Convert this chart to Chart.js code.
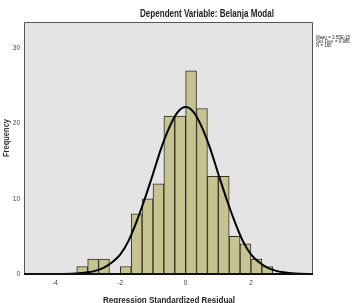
<!DOCTYPE html>
<html>
<head>
<meta charset="utf-8">
<script src="https://cdn.jsdelivr.net/npm/chart.js@4/dist/chart.umd.min.js"></script>
<style>
	html, body { margin: 0; padding: 0; background: #fff; }
	#wrap { width: 362px; height: 303px; }
</style>
</head>
<body>
<div id="wrap"><canvas id="myChart" width="362" height="303"></canvas></div>
<script>
// histogram bins (midpoints, width 1/3) and counts
const binMids = [-3.1667, -2.8333, -2.5, -2.1667, -1.8333, -1.5, -1.1667, -0.8333, -0.5, -0.1667,
	0.1667, 0.5, 0.8333, 1.1667, 1.5, 1.8333, 2.1667, 2.5]
const counts = [1, 2, 2, 0, 1, 8, 10, 12, 21, 21, 27, 22, 13, 13, 5, 4, 2, 1]

// normal curve
const curveX = [-4.95, -4.5, -4, -3.5, -3.25, -3, -2.75, -2.5, -2.25, -2, -1.75, -1.5, -1.25, -1, -0.75, -0.5, -0.25,
	0, 0.25, 0.5, 0.75, 1, 1.25, 1.5, 1.75, 2, 2.25, 2.5, 2.75, 3, 3.25, 3.5, 3.9]
const curveY = [0, 0, 0.01, 0.04, 0.1, 0.22, 0.45, 0.85, 1.55, 2.6, 4.4, 7.0, 10.0, 13.3, 16.7, 19.5, 21.5,
	22.2, 21.5, 19.5, 16.7, 13.3, 10.0, 7.0, 4.4, 2.6, 1.55, 0.85, 0.45, 0.22, 0.1, 0.04, 0]

const xTicks = [-4, -2, 0, 2]
const yTicks = [0, 10, 20, 30]
const titleText = 'Dependent Variable: Belanja Modal'
const statLines = ['Mean = 3.55E-15', 'Std. Dev. = 0.985', 'N = 165']

const sans = "'Liberation Sans', Arial, sans-serif"

// draws text squeezed to a given width (condensed look of the original)
function squeezed(ctx, text, cx, cy, width) {
	const w = ctx.measureText(text).width
	ctx.save()
	ctx.translate(cx, cy)
	ctx.scale(Math.min(1, width / w), 1)
	ctx.fillText(text, 0, 0)
	ctx.restore()
}

const decor = {
	id: 'decor',
	beforeDraw(chart) {
		const { ctx, chartArea: a } = chart
		ctx.save()
		ctx.fillStyle = '#e4e4e4'
		ctx.fillRect(a.left, a.top, a.right - a.left, a.bottom - a.top)
		ctx.restore()
	},
	afterDraw(chart) {
		const { ctx, chartArea: a } = chart
		ctx.save()
		// frame
		ctx.strokeStyle = '#555'
		ctx.lineWidth = 1
		ctx.beginPath()
		ctx.moveTo(a.left + 0.5, a.bottom)
		ctx.lineTo(a.left + 0.5, a.top + 0.5)
		ctx.lineTo(a.right - 0.5, a.top + 0.5)
		ctx.lineTo(a.right - 0.5, a.bottom)
		ctx.stroke()
		ctx.strokeStyle = '#111'
		ctx.lineWidth = 2
		ctx.beginPath()
		ctx.moveTo(a.left, a.bottom)
		ctx.lineTo(a.right, a.bottom)
		ctx.stroke()

		ctx.fillStyle = '#222'
		ctx.textAlign = 'center'
		ctx.textBaseline = 'middle'
		ctx.font = 'bold 10px ' + sans
		squeezed(ctx, titleText, 207, 14, 134)

		ctx.font = 'bold 9px ' + sans
		ctx.textBaseline = 'top'
		squeezed(ctx, 'Regression Standardized Residual', 169, 296, 132)

		ctx.save()
		ctx.translate(7, 138)
		ctx.rotate(-Math.PI / 2)
		ctx.textBaseline = 'middle'
		ctx.font = 'bold 9px ' + sans
		ctx.fillStyle = '#333'
		squeezed(ctx, 'Frequency', 0, 0, 38)
		ctx.restore()

		ctx.textAlign = 'left'
		ctx.textBaseline = 'middle'
		ctx.font = '5.5px ' + sans
		statLines.forEach((s, i) => {
			const w = ctx.measureText(s).width
			ctx.save()
			ctx.translate(316, 37 + i * 4.3)
			ctx.scale(0.8, 1)
			ctx.fillText(s, 0, 0)
			ctx.restore()
		})
		ctx.restore()
	}
}

const ctx = document.getElementById('myChart')
new Chart(ctx.getContext('2d'), {
	type: 'bar',
	data: {
		datasets: [
			{
				type: 'line',
				data: curveX.map((x, i) => ({ x: x, y: curveY[i] })),
				borderColor: '#000',
				borderWidth: 2,
				pointRadius: 0,
				cubicInterpolationMode: 'monotone',
				fill: false,
			},
			{
				type: 'bar',
				data: binMids.map((x, i) => ({ x: x, y: counts[i] })),
				backgroundColor: 'rgb(198, 195, 145)',
				borderColor: 'rgb(50, 48, 38)',
				borderWidth: 1,
				barPercentage: 1,
				categoryPercentage: 1,
			},
		],
	},
	options: {
		responsive: false,
		animation: false,
		events: [],
		layout: { padding: { left: 0, top: 22, right: 49, bottom: 0 } },
		plugins: { legend: { display: false }, tooltip: { enabled: false } },
		scales: {
			x: {
				type: 'linear',
				min: -4.95,
				max: 3.9,
				offset: false,
				grid: { display: false, drawTicks: false },
				border: { display: false },
				afterBuildTicks: (s) => { s.ticks = xTicks.map(v => ({ value: v })) },
				afterFit: (s) => { s.height = 29 },
				ticks: { color: '#444', font: { size: 6.5, family: sans }, padding: 5, maxRotation: 0 },
			},
			y: {
				min: 0,
				max: 33.5,
				grid: { display: false, drawTicks: false },
				border: { display: false },
				afterBuildTicks: (s) => { s.ticks = yTicks.map(v => ({ value: v })) },
				afterFit: (s) => { s.width = 24 },
				ticks: { color: '#444', font: { size: 6.5, family: sans }, padding: 4 },
			},
		},
	},
	plugins: [decor],
})
</script>
</body>
</html>
